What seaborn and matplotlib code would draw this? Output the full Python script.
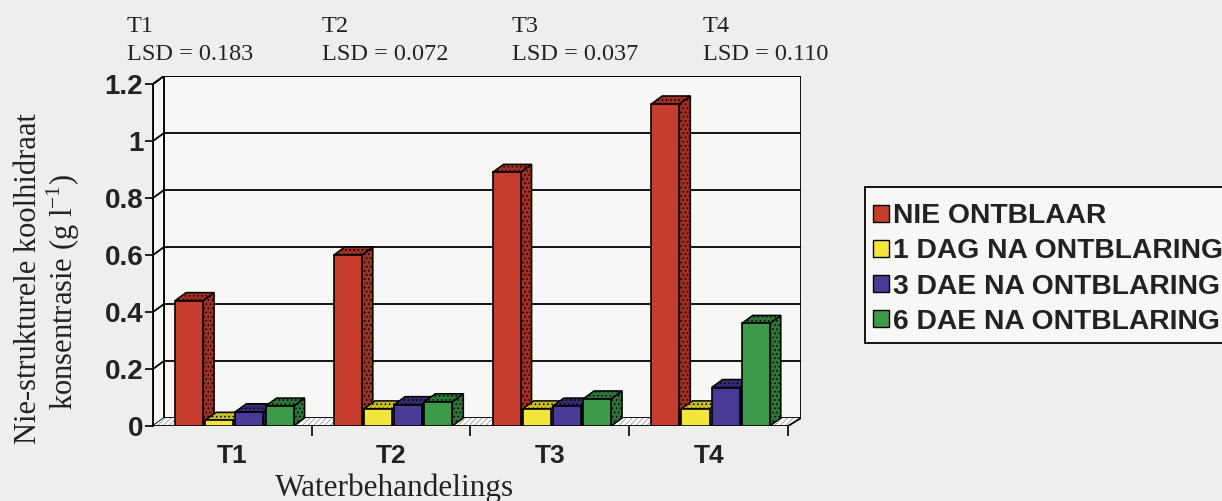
import numpy as np
import pandas as pd
import seaborn as sns
import matplotlib
matplotlib.use("Agg")
import matplotlib.pyplot as plt
from matplotlib.patches import Polygon, Patch, Rectangle

# ---- data -------------------------------------------------------------
treatments = ["T1", "T2", "T3", "T4"]
series = ["NIE ONTBLAAR", "1 DAG NA ONTBLARING",
          "3 DAE NA ONTBLARING", "6 DAE NA ONTBLARING"]
nie_ontblaar = [0.44, 0.60, 0.89, 1.13]
dag_1 = [0.02, 0.06, 0.06, 0.06]
dae_3 = [0.05, 0.075, 0.07, 0.135]
dae_6 = [0.07, 0.085, 0.095, 0.36]
lsd_values = [0.183, 0.072, 0.037, 0.110]
y_ticks = [0, 0.2, 0.4, 0.6, 0.8, 1.0, 1.2]
y_tick_labels = ["0", "0.2", "0.4", "0.6", "0.8", "1", "1.2"]

colors = ["#C63D2E", "#F3E53B", "#4A3C96", "#3E9A4B"]
side_colors = ["#9E2F22", "#C9BC2A", "#362B73", "#2C7438"]

df = pd.DataFrame({
    "Behandeling": treatments * 4,
    "Reeks": np.repeat(series, 4),
    "Waarde": nie_ontblaar + dag_1 + dae_3 + dae_6,
})

# ---- figure geometry (pixels) ----------------------------------------
W, H = 1222, 501
SX = 158.75          # px per category unit
SY = 285.0           # px per y unit
AX_L, AX_R = 153, 801
AX_B, AX_T = 426, 76
x0 = -0.5
x1 = x0 + (AX_R - AX_L) / SX
y1 = (AX_B - AX_T) / SY
DX = 11 / SX          # 3-D depth offset
DY = 8 / SY
X_END = 3.5
SHIFT = 3 / SX        # bars sit slightly right of the slot centre

sns.set_theme(style="white")
plt.rcParams["font.family"] = ["Liberation Sans", "DejaVu Sans"]
plt.rcParams["mathtext.fontset"] = "custom"
plt.rcParams["mathtext.rm"] = "Liberation Serif"
plt.rcParams["hatch.linewidth"] = 0.6

bg = "#EEEEEC"
wall = "#F7F7F5"
ink = "#222222"
fig = plt.figure(figsize=(W / 100, H / 100), dpi=100, facecolor=bg)
ax = fig.add_axes([AX_L / W, 1 - AX_B / H, (AX_R - AX_L) / W, (AX_B - AX_T) / H])
ax.set_facecolor("none")

# bars
sns.barplot(data=df, x="Behandeling", y="Waarde", hue="Reeks", hue_order=series,
            palette=colors, saturation=1, width=0.76, edgecolor="black",
            linewidth=1.2, legend=False, ax=ax, zorder=2)

# back wall, left wall and floor
ax.add_patch(Polygon([(x0 + DX, DY), (x1, DY), (x1, 1.2 + DY), (x0 + DX, 1.2 + DY)],
                     closed=True, facecolor=wall, edgecolor="black", lw=1.3, zorder=0.5))
ax.add_patch(Polygon([(x0, 0), (x0 + DX, DY), (x0 + DX, 1.2 + DY), (x0, 1.2)],
                     closed=True, facecolor=wall, edgecolor="black", lw=1.3, zorder=0.6))
for yv in y_ticks[1:]:
    ax.plot([x0, x0 + DX, x1], [yv, yv + DY, yv + DY], color="black", lw=1.3, zorder=0.7)
ax.add_patch(Polygon([(x0, 0), (X_END, 0), (x1, DY), (x0 + DX, DY)], closed=True,
                     facecolor="white", edgecolor="#9a9a9a", hatch="//////", lw=0, zorder=0.8))
ax.plot([x0, X_END, x1, x1], [0, 0, DY, DY], color="black", lw=1.3, zorder=0.9)

# extrude each bar: side and top faces
for j, cont in enumerate(ax.containers):
    base = 2 + j * 0.1
    for bar in cont.patches:
        bx = bar.get_x() + SHIFT
        bw = bar.get_width() * 0.93
        bh = bar.get_height()
        bar.set_x(bx)
        bar.set_width(bw)
        bar.set_zorder(base + 0.05)
        side = Polygon([(bx + bw, 0), (bx + bw + DX, DY), (bx + bw + DX, bh + DY), (bx + bw, bh)],
                       closed=True, facecolor=side_colors[j], edgecolor="black",
                       hatch="....", lw=1.1, zorder=base + 0.02)
        top = Polygon([(bx, bh), (bx + DX, bh + DY), (bx + bw + DX, bh + DY), (bx + bw, bh)],
                      closed=True, facecolor=side_colors[j], edgecolor="black",
                      hatch="....", lw=1.1, zorder=base + 0.03)
        ax.add_patch(side)
        ax.add_patch(top)

ax.set_xlim(x0, x1)
ax.set_ylim(0, y1)
for s in ["top", "right", "bottom"]:
    ax.spines[s].set_visible(False)
ax.spines["left"].set_bounds(0, 1.2)
ax.spines["left"].set_color("black")
ax.spines["left"].set_linewidth(1.3)

ax.set_yticks(y_ticks)
ax.set_yticklabels(y_tick_labels, fontsize=20, fontweight="bold", color=ink)
ax.tick_params(axis="y", direction="out", length=6, width=1.2, color="black", pad=1, left=True)

ax.set_xticks([0.5, 1.5, 2.5, 3.5])
ax.set_xticklabels([])
ax.tick_params(axis="x", which="major", direction="out", length=7, width=1.2,
               color="black", bottom=True)
ax.set_xticks(range(len(treatments)), minor=True)
ax.set_xticklabels(treatments, minor=True, fontsize=19, fontweight="bold", color=ink)
ax.tick_params(axis="x", which="minor", length=0, pad=13)
ax.set_xlabel("")
ax.set_ylabel("")

# axis titles
serif = ["Liberation Serif", "DejaVu Serif"]
fig.text(394 / W, 1 - 496 / H, "Waterbehandelings", family=serif, fontsize=22.5,
         ha="center", va="baseline", color=ink)
fig.text(29 / W, 1 - 279 / H, "Nie-strukturele koolhidraat", family=serif, fontsize=22,
         rotation=90, ha="center", va="center", color=ink)
fig.text(63 / W, 1 - 292 / H, r"konsentrasie (g l$^{\mathregular{-1}}$)", family=serif,
         fontsize=22, rotation=90, ha="center", va="center", color=ink)

# LSD annotations
lsd_x = [127, 322, 512, 703]
for px, t, v in zip(lsd_x, treatments, lsd_values):
    fig.text(px / W, 1 - 32 / H, t, family=serif, fontsize=17.5, ha="left", va="baseline",
             color=ink)
    fig.text(px / W, 1 - 60 / H, f"LSD = {v:.3f}", family=serif, fontsize=17.5,
             ha="left", va="baseline", color=ink)

# legend with a hand-placed frame
fig.patches.append(Rectangle((865 / W, 1 - 343 / H), 380 / W, 156 / H,
                             transform=fig.transFigure, facecolor=wall,
                             edgecolor="black", lw=1.3, zorder=0))
handles = [Patch(facecolor=c, edgecolor="black", lw=1.0) for c in colors]
leg = fig.legend(handles, series, loc="upper left", bbox_to_anchor=(873 / W, 1 - 203 / H),
                 frameon=False,
                 prop={"family": "Liberation Sans", "weight": "bold", "size": 20.3},
                 handlelength=0.55, handleheight=0.55, handletextpad=0.15,
                 labelspacing=0.33, borderpad=0, borderaxespad=0)
for t in leg.get_texts():
    t.set_color(ink)

fig.savefig("out.png", dpi=100, facecolor=bg)
